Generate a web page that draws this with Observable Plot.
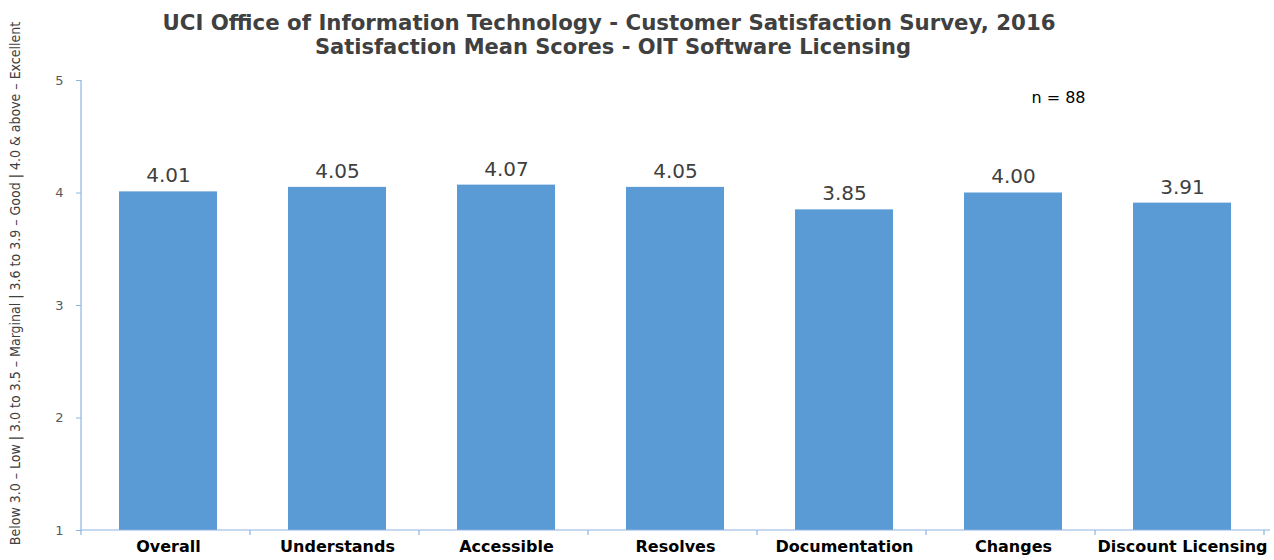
<!DOCTYPE html>
<html>
<head>
<meta charset="utf-8">
<script src="https://cdn.jsdelivr.net/npm/d3@7"></script>
<script src="https://cdn.jsdelivr.net/npm/@observablehq/plot@0.6"></script>
<style>
  html, body { margin: 0; padding: 0; background: #fff; }
  #chart svg { display: block; }
</style>
</head>
<body>
<div id="chart"></div>
<script>
const categories = ["Overall", "Understands", "Accessible", "Resolves", "Documentation", "Changes", "Discount Licensing"];
const scores = [4.01, 4.05, 4.07, 4.05, 3.85, 4.00, 3.91];
const yTicks = [1, 2, 3, 4, 5];
const titleLines = [
  "UCI Office of Information Technology - Customer Satisfaction Survey, 2016",
  "Satisfaction Mean Scores - OIT Software Licensing"
];
const yLabel = "Below 3.0 \u2013 Low | 3.0 to 3.5 \u2013 Marginal | 3.6 to 3.9 \u2013 Good | 4.0 & above \u2013 Excellent";
const note = "n = 88";

const data = categories.map((c, i) => ({category: c, score: scores[i]}));

const barColor = "#5b9bd5";
const axisColor = "#8db4e2";
const wide = "'DejaVu Sans', 'Open Sans', sans-serif";

const chart = Plot.plot({
  width: 1274,
  height: 560,
  marginTop: 80,
  marginBottom: 30,
  marginLeft: 81,
  marginRight: 4,
  style: {fontFamily: wide, background: "#fff"},
  x: {domain: categories, paddingInner: 0.42, paddingOuter: 0.21, label: null},
  y: {domain: [1, 5], label: null},
  marks: [
    Plot.barY(data, {x: "category", y1: 1, y2: "score", fill: barColor}),
    Plot.text(data, {x: "category", y: "score", text: d => d.score.toFixed(2), dy: -16,
      fontSize: 20, fill: "#404040"}),
    Plot.axisY({ticks: yTicks, tickFormat: d => String(d), tickSize: 5, tickPadding: 13,
      stroke: axisColor, fill: "#595959", fontSize: 13, label: null}),
    Plot.axisX({tickSize: 0, tickPadding: 10, fontSize: 16, fontWeight: "bold", fill: "#000", label: null}),
    Plot.text([titleLines[0]], {frameAnchor: "top", textAnchor: "middle", dx: -67, dy: -66, fontSize: 21.3, fontWeight: "bold", fill: "#404040"}),
    Plot.text([titleLines[1]], {frameAnchor: "top", textAnchor: "middle", dx: -63, dy: -41, fontSize: 21, fontWeight: "bold", fill: "#404040"}),
    Plot.text([yLabel], {frameAnchor: "left", textAnchor: "middle", rotate: -90, dx: -66, dy: -22, fontSize: 14,
      fill: "#404040", fontFamily: "'Liberation Sans Narrow', 'DejaVu Sans Condensed', sans-serif"}),
    Plot.text([note], {frameAnchor: "top-right", textAnchor: "end", dx: -185, dy: 11, fontSize: 16, fill: "#000"})
  ]
});

// axis lines and category boundary ticks, derived from the library's scales
const xs = chart.scale("x");
const ys = chart.scale("y");
const svg = d3.select(chart);
const yTop = ys.apply(5), yBot = ys.apply(1);
const x0 = xs.range[0], x1 = xs.range[1];
const g = svg.append("g").attr("stroke", axisColor).attr("stroke-width", 1.2);
g.append("line").attr("x1", x0).attr("x2", x0).attr("y1", yTop).attr("y2", yBot);
g.append("line").attr("x1", x0).attr("x2", x1).attr("y1", yBot).attr("y2", yBot);
for (let i = 0; i <= categories.length; i++) {
  const bx = x0 + i * xs.step;
  g.append("line").attr("x1", bx).attr("x2", bx).attr("y1", yBot).attr("y2", yBot + 5);
}

document.getElementById("chart").appendChild(chart);
</script>
</body>
</html>
